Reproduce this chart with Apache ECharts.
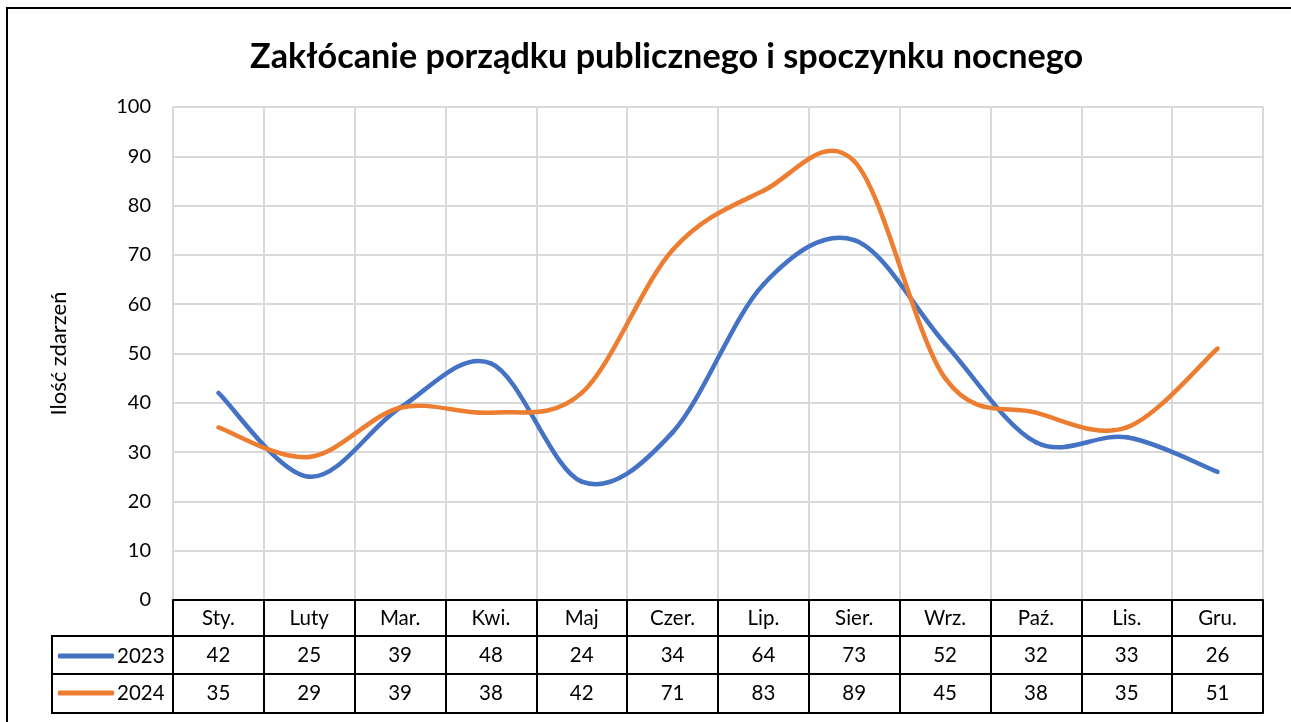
<!DOCTYPE html>
<html><head><meta charset="utf-8">
<script src="https://cdn.jsdelivr.net/npm/echarts@6/dist/echarts.min.js"></script>
<style>html,body{margin:0;padding:0;background:#fff}#c{width:1291px;height:722px}</style>
</head><body><div id="c"></div>
<script>
const months = ['Sty.','Luty','Mar.','Kwi.','Maj','Czer.','Lip.','Sier.','Wrz.','Paź.','Lis.','Gru.'];
const values2023 = [42,25,39,48,24,34,64,73,52,32,33,26];
const values2024 = [35,29,39,38,42,71,83,89,45,38,35,51];
const seriesNames = ['2023','2024'];
const seriesColors = ['#4472C4','#ED7D31'];
const yTicks = {min:0, max:100, interval:10};
const titleText = 'Zakłócanie porządku publicznego i spoczynku nocnego';
const yAxisName = 'Ilość zdarzeń';

const FONT = 'Lato';
const chart = echarts.init(document.getElementById('c'));
const tableLine = {show:true, lineStyle:{color:'#000', width:2}};
const tableTick = (len) => ({show:true, length:len, interval:0, alignWithLabel:false, lineStyle:{color:'#000', width:2}});
const lbl = (m) => ({show:true, interval:0, color:'#000', fontFamily:FONT, fontSize:20.5, margin:m});

// Excel-like smoothed line (Catmull-Rom Bezier segments) through the axis scales
function smoothSeries(name, arr, color) {
  return {
    name, type:'custom', xAxisIndex:0, yAxisIndex:0,
    data: arr.map((v, i) => [i, v]),
    encode:{x:0, y:1},
    itemStyle:{color},
    renderItem(params, api) {
      const i = params.dataIndex, n = arr.length;
      if (i >= n - 1) return null;
      const P = k => api.coord([Math.max(0, Math.min(n - 1, k)), arr[Math.max(0, Math.min(n - 1, k))]]);
      const p0 = P(i - 1), p1 = P(i), p2 = P(i + 1), p3 = P(i + 2);
      return {
        type:'bezierCurve',
        shape:{
          x1:p1[0], y1:p1[1], x2:p2[0], y2:p2[1],
          cpx1:p1[0] + (p2[0] - p0[0]) / 6, cpy1:p1[1] + (p2[1] - p0[1]) / 6,
          cpx2:p2[0] - (p3[0] - p1[0]) / 6, cpy2:p2[1] - (p3[1] - p1[1]) / 6
        },
        style:{stroke:color, lineWidth:4.5, fill:null, lineCap:'round'}
      };
    }
  };
}

chart.setOption({
  backgroundColor:'#fff',
  animation:false,
  title:{text:titleText, left:250, top:40, padding:0,
    textStyle:{fontFamily:FONT, fontWeight:'bold', fontSize:34.2, color:'#000'}},
  grid:{left:173, right:28, top:107, bottom:122, containLabel:false},
  legend:{orient:'vertical', left:58, top:645, padding:0, itemWidth:56, itemHeight:5, itemGap:15, icon:'roundRect',
    data:seriesNames, textStyle:{fontFamily:FONT, fontSize:20.5, color:'#000', lineHeight:22, padding:[0,0,0,-2]}},
  xAxis:[
    {type:'category', data:months, position:'bottom', boundaryGap:true,
      axisLine:tableLine, axisTick:tableTick(36), axisLabel:lbl(8),
      splitLine:{show:true, interval:0, lineStyle:{color:'#d9d9d9', width:2}}},
    {type:'category', data:values2023.map(String), position:'bottom', offset:36, boundaryGap:true,
      axisLine:tableLine, axisTick:tableTick(38), axisLabel:lbl(9), splitLine:{show:false}},
    {type:'category', data:values2024.map(String), position:'bottom', offset:74, boundaryGap:true,
      axisLine:tableLine, axisTick:tableTick(39), axisLabel:lbl(9), splitLine:{show:false}},
    {type:'category', data:months, position:'bottom', offset:113, boundaryGap:true,
      axisLine:tableLine, axisTick:{show:false}, axisLabel:{show:false}, splitLine:{show:false}}
  ],
  yAxis:{type:'value', min:yTicks.min, max:yTicks.max, interval:yTicks.interval,
    name:yAxisName, nameLocation:'middle', nameGap:103, nameRotate:90,
    nameTextStyle:{fontFamily:FONT, fontSize:22, color:'#000'},
    axisLine:{show:false}, axisTick:{show:false},
    axisLabel:{color:'#000', fontFamily:FONT, fontSize:20, margin:22},
    splitLine:{show:true, lineStyle:{color:'#d9d9d9', width:2}}},
  series:[
    smoothSeries(seriesNames[0], values2023, seriesColors[0]),
    smoothSeries(seriesNames[1], values2024, seriesColors[1])
  ],
  graphic:[
    {type:'polyline', shape:{points:[[7,722],[7,8],[1291,8]]}, style:{stroke:'#000', lineWidth:2, fill:null}},
    {type:'rect', shape:{x:52, y:636, width:121, height:77}, style:{stroke:'#000', lineWidth:2, fill:null}},
    {type:'line', shape:{x1:52, y1:674, x2:173, y2:674}, style:{stroke:'#000', lineWidth:2}}
  ]
});
</script></body></html>
